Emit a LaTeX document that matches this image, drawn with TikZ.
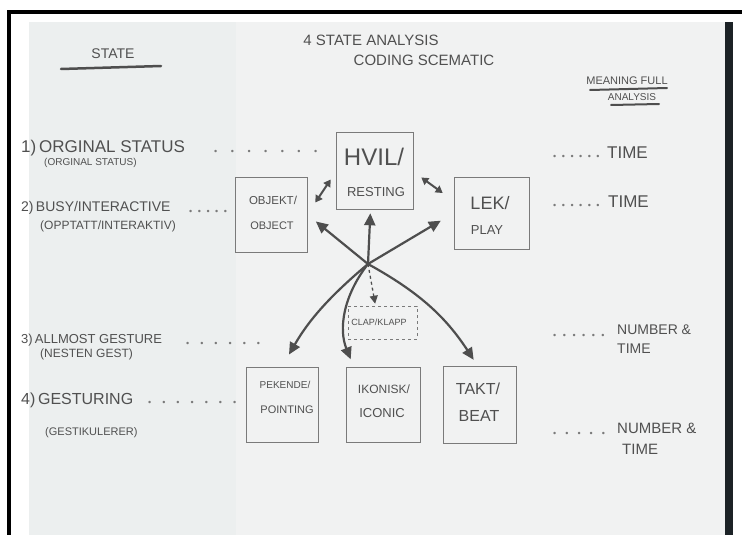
\documentclass[tikz,border=0pt]{standalone}
\usepackage{fontspec}
\setmainfont{Liberation Sans}
\usetikzlibrary{arrows.meta,calc}
\definecolor{pencil}{HTML}{505050}
\definecolor{boxgray}{HTML}{7A7A7A}
\definecolor{arrgray}{HTML}{4E4E4E}
\definecolor{paperL}{HTML}{ECEFEF}
\definecolor{paperR}{HTML}{F1F2F2}
\definecolor{strip}{HTML}{1C2226}
\newcommand{\fsz}[1]{\fontsize{#1}{#1}\selectfont}
\newcommand{\dotrow}[2]{\foreach \i in {1,...,#1}{\textbullet\hspace{#2}}}
\begin{document}
\begin{tikzpicture}[x=1pt,y=-1pt,
  txt/.style={text=pencil, inner sep=0pt},
  lft/.style={txt, anchor=west},
  dotsty/.style={text=boxgray, inner sep=0pt, anchor=west, font=\fsz{9}},
  box/.style={draw=boxgray, line width=0.6pt, inner sep=0pt},
  arr/.style={draw=arrgray, line width=2.2pt, -{Triangle[length=12pt,width=11pt]}},
  darr/.style={draw=arrgray, line width=2pt, {Triangle[length=7pt,width=8pt]}-{Triangle[length=7pt,width=8pt]}},
  dasharr/.style={draw=arrgray, line width=1.3pt, dashed, -{Triangle[length=8pt,width=8pt]}},
  uline/.style={draw=arrgray, line width=2.5pt, line cap=round},
]
\useasboundingbox (0,0) rectangle (742,535);
% paper and frame
\fill[white] (0,0) rectangle (742,535);
\fill[paperL] (29,22) rectangle (236,535);
\fill[paperR] (236,22) rectangle (725,535);
\fill[strip] (725,22) rectangle (733,535);
\fill[black] (7,10) rectangle (742,14);
\fill[black] (7,10) rectangle (11,535);

% titles
\node[txt, font=\fsz{15}] (t1) at (371,40) {4 STATE ANALYSIS};
\node[txt, font=\fsz{15}] (t2) at (424,60) {CODING SCEMATIC};
\node[txt, font=\fsz{14}] (hstate) at (113,54) {STATE};
\draw[uline] (61,69) -- (161,66);
\node[txt, font=\fsz{11}] (hmean) at (627,81) {MEANING FULL};
\draw[uline, line width=2pt] (590,90) -- (667,88);
\node[txt, font=\fsz{10}] (hanal) at (632,97) {ANALYSIS};
\draw[uline, line width=2pt] (611,105) -- (659,104);

% left labels
\node[lft, font=\fsz{17}] (l1) at (21,148) {1)\,ORGINAL STATUS};
\node[dotsty] (l1d) at (214,152) {\dotrow{7}{13.5pt}};
\node[lft, font=\fsz{10}] (l1s) at (44,163) {(ORGINAL STATUS)};
\node[lft, font=\fsz{14}] (l2) at (21,208) {2)\,BUSY/INTERACTIVE};
\node[dotsty] (l2d) at (189,212) {\dotrow{5}{5.5pt}};
\node[lft, font=\fsz{12}] (l2s) at (40,226) {(OPPTATT/INTERAKTIV)};
\node[lft, font=\fsz{13}] (l3) at (21,340) {3)\,ALLMOST GESTURE};
\node[dotsty] (l3d) at (186,344) {\dotrow{6}{11pt}};
\node[lft, font=\fsz{12}] (l3s) at (40,354) {(NESTEN GEST)};
\node[lft, font=\fsz{16}] (l4) at (21,400) {4)\,GESTURING};
\node[dotsty] (l4d) at (148,403) {\dotrow{7}{11pt}};
\node[lft, font=\fsz{11}] (l4s) at (45,433) {(GESTIKULERER)};

% right labels
\node[dotsty] (r1d) at (553,157) {\dotrow{6}{5.5pt}};
\node[lft, font=\fsz{17}] (r1) at (607,153) {TIME};
\node[dotsty] (r2d) at (553,206) {\dotrow{6}{5.5pt}};
\node[lft, font=\fsz{17}] (r2) at (608,202) {TIME};
\node[dotsty] (r3d) at (553,336) {\dotrow{6}{6.5pt}};
\node[lft, font=\fsz{14}] (r3a) at (617,330) {NUMBER \&};
\node[lft, font=\fsz{14}] (r3b) at (617,349) {TIME};
\node[dotsty] (r4d) at (553,434) {\dotrow{5}{9pt}};
\node[lft, font=\fsz{15}] (r4a) at (617,428) {NUMBER \&};
\node[lft, font=\fsz{15}] (r4b) at (622,449) {TIME};

% boxes
\node[box, minimum width=77, minimum height=77] (rest) at (374.5,170.5) {};
\node[box, minimum width=72, minimum height=75] (obj) at (271,214.5) {};
\node[box, minimum width=75, minimum height=72] (play) at (491.5,213) {};
\node[box, minimum width=72, minimum height=75] (point) at (282,404.5) {};
\node[box, minimum width=74, minimum height=75] (icon) at (383,404.5) {};
\node[box, minimum width=73, minimum height=77] (beat) at (479.5,404.5) {};
\node[box, dashed, minimum width=69, minimum height=33] (clap) at (382.5,322.5) {};

% box texts
\node[txt, font=\fsz{24}] (restA) at (374,157) {HVIL/};
\node[txt, font=\fsz{13}] (restB) at (376,192) {RESTING};
\node[txt, font=\fsz{11.5}] (objA) at (273,200) {OBJEKT/};
\node[txt, font=\fsz{11}] (objB) at (272,226) {OBJECT};
\node[txt, font=\fsz{18}] (playA) at (490,203) {LEK/};
\node[txt, font=\fsz{13}] (playB) at (487,230) {PLAY};
\node[txt, font=\fsz{10}] (pointA) at (285,385) {PEKENDE/};
\node[txt, font=\fsz{11}] (pointB) at (287,410) {POINTING};
\node[txt, font=\fsz{12}] (iconA) at (384,389) {IKONISK/};
\node[txt, font=\fsz{13}] (iconB) at (382,413) {ICONIC};
\node[txt, font=\fsz{16}] (beatA) at (478,389) {TAKT/};
\node[txt, font=\fsz{16}] (beatB) at (479,416) {BEAT};
\node[txt, font=\fsz{9}] (clapA) at (379,322) {CLAP/KLAPP};

% hub and arrows
\coordinate (hub) at (368,264);
\draw[arr, shorten >=11pt] (hub) -- (obj.east);
\draw[arr, shorten >=4pt] (hub) -- ($(rest.south)+(-4,0)$);
\draw[arr, shorten >=15pt] (hub) -- (play.west);
\draw[arr, shorten >=14pt] (hub) to[bend right=10] (point.north);
\draw[arr, shorten >=8pt] (hub) to[bend right=30] ($(icon.north west)+(8,0)$);
\draw[arr, shorten >=7pt] (hub) to[bend left=14] ($(beat.north)+(-2,0)$);
\draw[dasharr, shorten >=2pt] (hub) -- ($(clap.north)+(-7,0)$);
\draw[darr] ($(obj.east)+(8,-12)$) -- ($(rest.west)+(-5,9)$);
\draw[darr] ($(rest.east)+(8,7)$) -- ($(play.west)+(-11,-20)$);
\end{tikzpicture}
\end{document}
